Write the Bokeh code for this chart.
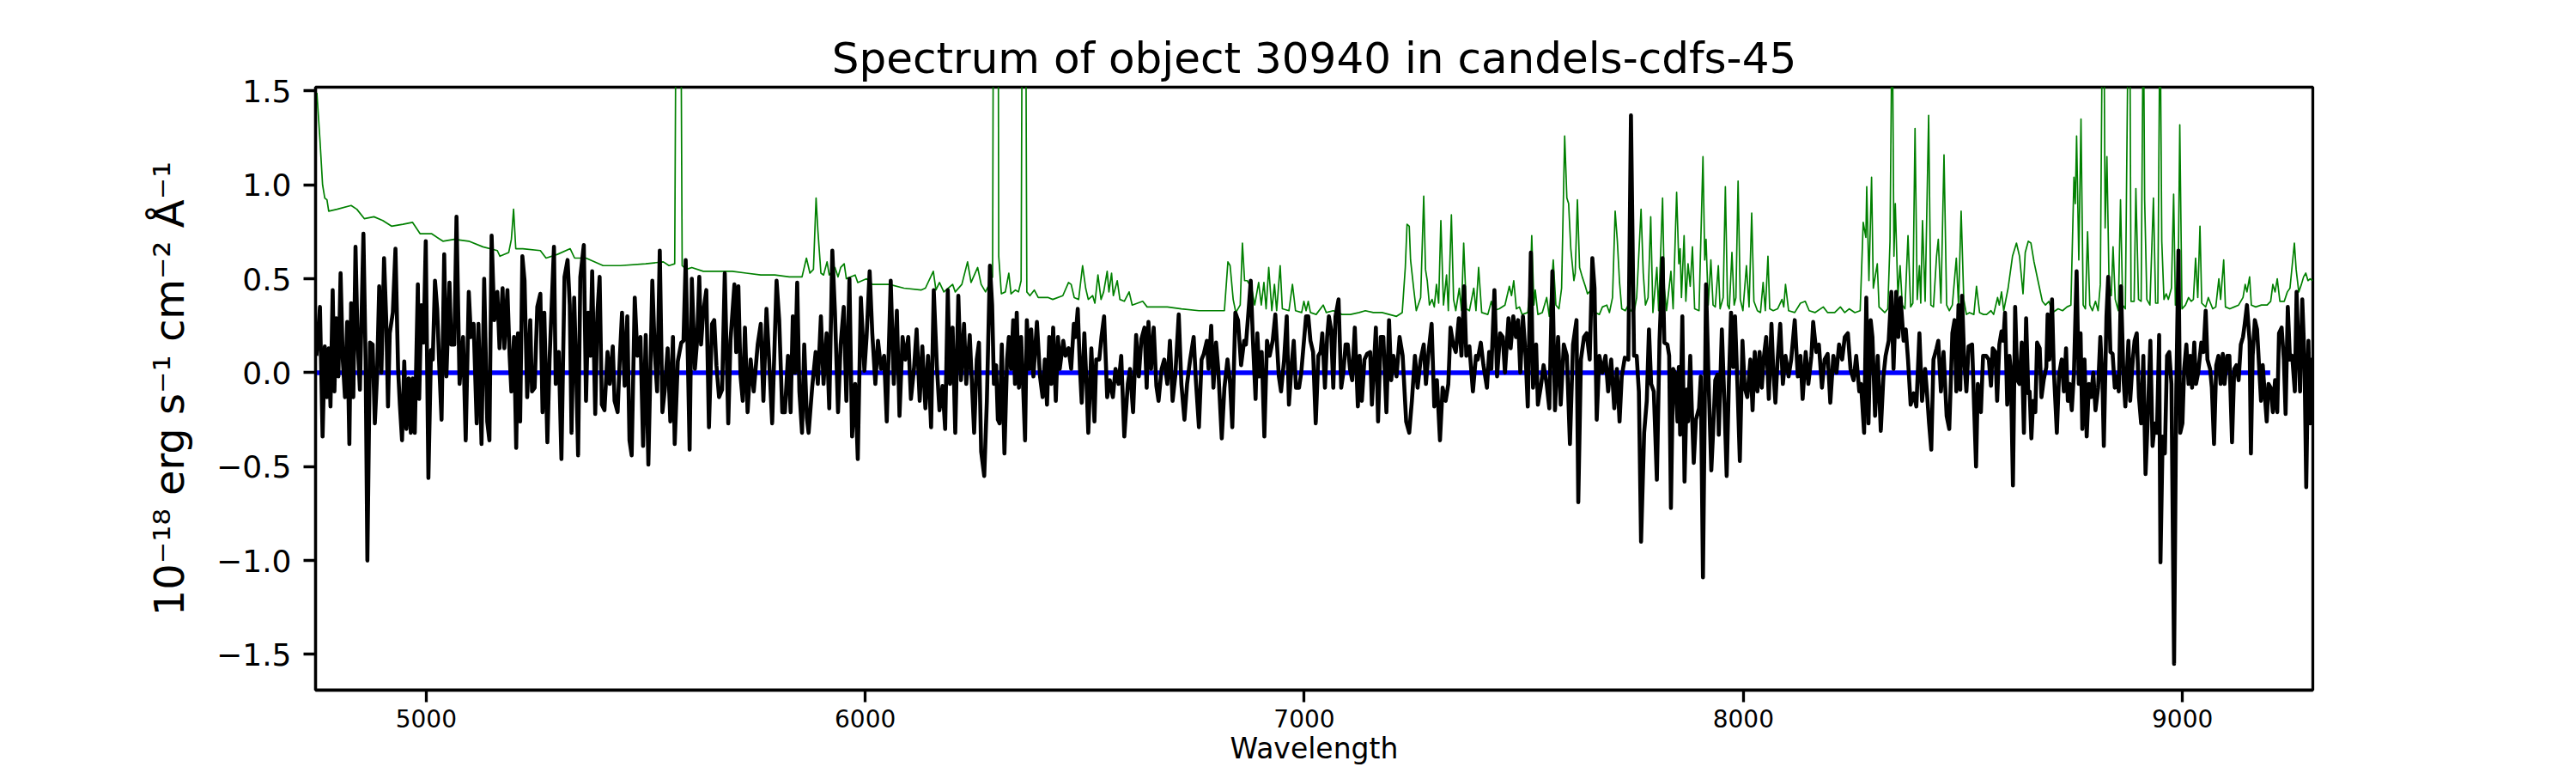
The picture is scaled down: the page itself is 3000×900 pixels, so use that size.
from bokeh.plotting import figure
from bokeh.models import FixedTicker, Range1d, ColumnDataSource
from bokeh.embed import file_html
from bokeh.resources import INLINE

TITLE = "Spectrum of object 30940 in candels-cdfs-45"
X_LABEL = "Wavelength"
Y_LABEL = "10\u207b\u00b9\u2078 erg s\u207b\u00b9 cm\u207b\u00b2 \u00c5\u207b\u00b9"
X_TICKS = [5000, 6000, 7000, 8000, 9000]
Y_TICKS = [-1.5, -1.0, -0.5, 0.0, 0.5, 1.0, 1.5]
Y_TICK_LABELS = ["\u22121.5", "\u22121.0", "\u22120.5", "0.0", "0.5", "1.0", "1.5"]

FLUX_A = [(4750,0.09),(4758,0.35),(4764,-0.34),(4769,0.14),(4774,-0.13),(4778,0.13),(4782,-0.18),(4787,0.44),(4791,-0.10),(4795,0.29),(4800,-0.02),(4805,0.53),(4810,0.07),(4815,-0.13),(4820,0.27),(4825,-0.38),(4829,0.37),(4834,-0.13),(4839,0.67),(4844,0.15),(4849,-0.09),(4857,0.74),(4862,0.07),(4866,-1.00),(4872,0.16),(4878,0.15),(4883,-0.27),(4888,-0.02),(4893,0.46),(4898,0.00),(4904,0.61),(4909,0.28),(4913,-0.18),(4917,0.21),(4924,0.32),(4930,0.66),(4936,0.02),(4940,-0.17),(4945,-0.36),(4950,0.06),(4955,-0.30),(4960,-0.03),(4965,-0.32),(4969,-0.03),(4974,-0.32),(4981,0.47),(4984,-0.14),(4989,0.36),(4994,0.16),(4999,0.70),(5005,-0.56),(5011,0.12),(5015,0.07),(5020,0.49),(5025,0.34),(5030,0.02),(5035,-0.25),(5041,0.63),(5046,-0.02),(5053,0.48),(5057,0.15),(5064,0.15),(5069,0.83),(5076,-0.06),(5084,0.19),(5090,-0.36),(5097,0.43),(5102,0.19),(5108,0.26),(5115,-0.27),(5119,0.26),(5126,-0.38),(5132,0.50),(5139,-0.26),(5144,-0.36),(5149,0.73),(5155,0.28),(5162,0.43),(5167,0.13),(5174,0.45),(5178,0.13),(5185,0.44),(5190,0.09),(5194,-0.10),(5200,0.19),(5205,-0.40),(5209,0.21),(5214,-0.26),(5219,0.62),(5224,0.49),(5230,-0.13),(5237,0.28),(5241,-0.10),(5247,-0.08),(5253,0.35),(5260,0.42),(5265,-0.21),(5269,0.32),(5276,-0.37),(5281,0.07),(5291,0.67),(5295,-0.06),(5302,0.11),(5308,-0.46),(5315,0.51),(5322,0.60),(5327,0.36),(5331,-0.32),(5337,0.40),(5341,0.07),(5346,-0.44),(5351,0.51),(5359,0.68),(5364,-0.15),(5369,0.32),(5374,0.09),(5378,0.54),(5385,-0.22),(5390,0.32),(5395,0.51),(5400,-0.17),(5406,-0.20),(5413,0.11),(5418,-0.06),(5425,0.14),(5429,-0.15),(5436,-0.21),(5441,0.08),(5446,0.32),(5452,-0.07),(5458,0.30),(5463,-0.36),(5468,-0.44),(5475,0.40),(5481,0.09),(5488,0.19),(5494,-0.39),(5500,0.20)]
FLUX_B = [(5506,-0.49),(5515,0.49),(5521,0.09),(5526,-0.10),(5532,0.65),(5538,-0.21),(5543,-0.10),(5550,0.13),(5556,-0.26),(5562,0.19),(5566,-0.38),(5573,0.06),(5581,0.16),(5586,0.17),(5591,0.60),(5596,0.07),(5600,-0.41),(5605,0.50),(5612,0.02),(5617,0.17),(5622,0.51),(5626,0.15),(5631,0.32),(5638,0.44),(5644,-0.29),(5651,0.26),(5656,0.28),(5661,0.04),(5667,-0.13),(5674,-0.09),(5680,0.53),(5688,-0.27),(5693,0.17),(5702,0.47),(5706,0.11),(5711,0.46),(5716,-0.02),(5721,-0.15),(5726,0.24),(5732,-0.21),(5739,0.07),(5746,-0.10),(5755,0.15),(5762,0.26),(5768,-0.15),(5775,0.34),(5781,0.07),(5788,-0.27),(5798,0.49),(5804,0.28),(5811,-0.21),(5817,-0.21),(5824,0.09),(5830,-0.21),(5835,0.30),(5840,0.00),(5845,0.48),(5850,-0.10),(5856,-0.32),(5861,0.15),(5867,-0.24),(5871,-0.32),(5879,-0.08),(5887,0.11),(5892,-0.06),(5899,0.30),(5905,-0.06),(5912,0.21),(5918,-0.19),(5925,0.65),(5931,0.32),(5938,-0.21),(5944,0.15),(5951,0.35),(5957,-0.15),(5964,0.50),(5970,-0.34),(5977,-0.06),(5983,-0.46),(5990,0.40),(5998,0.01),(6003,0.19),(6010,0.54),(6016,0.21),(6023,-0.06),(6029,0.17),(6036,0.02),(6043,0.09),(6049,-0.26),(6058,0.49),(6065,-0.06),(6072,0.33),(6078,-0.23),(6085,0.19),(6091,0.07),(6098,0.19),(6104,-0.14),(6111,0.02),(6117,0.23),(6124,-0.15),(6130,0.14),(6137,-0.19),(6143,0.09),(6150,-0.29),(6156,0.44),(6163,0.04),(6169,-0.20),(6176,-0.07),(6182,-0.30),(6188,0.44),(6193,-0.06),(6199,0.24),(6205,-0.32),(6212,0.41),(6218,-0.04),(6225,0.26),(6230,-0.06),(6238,0.20),(6248,-0.32),(6254,0.07),(6259,0.16),(6264,-0.42)]
FLUX_C = [(6271,-0.55),(6277,-0.15),(6284,0.57),(6289,0.36),(6293,-0.06),(6298,0.04),(6302,-0.25),(6306,-0.27),(6311,0.15),(6317,-0.43),(6323,0.07),(6327,0.19),(6332,0.02),(6337,0.28),(6341,-0.06),(6345,0.32),(6350,-0.08),(6355,0.19),(6360,-0.10),(6364,-0.36),(6368,0.28),(6374,0.02),(6378,0.23),(6383,-0.02),(6391,0.27),(6398,-0.02),(6404,-0.13),(6409,0.07),(6414,-0.17),(6419,0.19),(6424,-0.06),(6428,0.24),(6434,-0.15),(6439,0.19),(6443,0.02),(6451,0.17),(6456,0.09),(6463,0.13),(6469,0.02),(6475,0.26),(6479,0.19),(6484,0.34),(6489,0.02),(6493,-0.16),(6499,0.21),(6504,-0.06),(6508,-0.32),(6515,0.13),(6522,-0.26),(6526,0.07),(6533,0.07),(6538,0.19),(6544,0.30),(6551,-0.13),(6557,-0.04),(6564,-0.13),(6570,0.02),(6577,-0.06),(6583,0.09),(6590,-0.34),(6598,-0.06),(6603,0.02),(6610,-0.21),(6617,0.20),(6623,-0.02),(6629,0.18),(6636,0.24),(6641,-0.08),(6645,0.27),(6651,0.02),(6657,0.24),(6663,-0.07),(6668,-0.15),(6675,0.02),(6681,0.07),(6688,-0.06),(6694,0.17),(6700,-0.15),(6706,-0.02),(6714,0.31),(6720,-0.06),(6727,-0.25),(6733,-0.06),(6740,0.07),(6748,0.19),(6753,-0.04),(6760,-0.29),(6766,0.07),(6771,0.10),(6778,0.17),(6782,0.02),(6788,0.25),(6793,-0.08),(6799,0.16),(6804,0.02),(6812,-0.35),(6818,-0.08),(6825,0.07),(6831,-0.06),(6836,-0.29),(6843,0.32),(6849,0.28),(6856,0.04),(6863,0.17),(6867,0.15),(6874,0.36),(6878,0.49),(6883,0.17),(6889,-0.14),(6893,0.21),(6898,-0.02),(6903,0.11),(6909,-0.34),(6915,0.17),(6921,0.09),(6928,0.17),(6934,0.31),(6942,-0.02),(6947,-0.10),(6954,0.07),(6960,0.30),(6965,-0.17),(6971,0.04),(6976,0.17),(6981,-0.08),(6988,-0.08),(6993,0.00),(6997,0.11),(7004,0.30),(7009,0.30),(7014,0.17),(7020,0.11),(7026,-0.27)]
FLUX_D = [(7032,0.09),(7037,0.11),(7041,0.21),(7047,-0.08),(7052,0.19),(7056,0.30),(7061,0.23),(7066,-0.08),(7071,0.30),(7078,0.39),(7084,-0.08),(7089,0.00),(7094,0.15),(7099,0.15),(7104,0.02),(7109,-0.04),(7115,0.24),(7122,-0.18),(7126,0.09),(7131,-0.15),(7137,0.07),(7143,0.10),(7150,0.11),(7154,-0.17),(7163,0.24),(7168,-0.26),(7174,0.19),(7180,0.19),(7187,-0.21),(7193,0.28),(7198,-0.04),(7203,0.09),(7210,-0.02),(7217,0.19),(7224,0.09),(7232,-0.26),(7239,-0.32),(7245,-0.15),(7252,0.09),(7258,-0.08),(7265,0.07),(7272,0.15),(7277,-0.06),(7283,0.11),(7290,0.26),(7296,-0.18),(7302,-0.04),(7309,-0.36),(7315,-0.08),(7322,-0.15),(7328,-0.06),(7333,0.24),(7339,0.15),(7345,0.11),(7352,0.29),(7358,0.09),(7364,0.46),(7369,0.09),(7376,0.14),(7384,-0.10),(7391,0.09),(7395,0.07),(7402,0.16),(7408,0.04),(7416,-0.08),(7421,0.11),(7426,0.02),(7433,0.44),(7439,-0.02),(7446,0.21),(7452,0.19),(7457,0.00),(7465,0.29),(7470,0.13),(7476,0.30),(7482,0.19),(7487,0.28),(7492,0.00),(7498,0.30),(7504,0.09),(7509,-0.18),(7516,0.64),(7521,-0.08),(7528,0.15),(7532,-0.17),(7539,-0.07),(7545,0.04),(7552,-0.06),(7558,-0.19),(7565,0.54),(7571,-0.20),(7578,0.19),(7584,-0.17),(7591,0.15),(7598,0.09),(7605,-0.38),(7612,0.15),(7620,0.28),(7624,-0.69),(7630,0.07),(7637,0.19),(7643,0.21),(7650,0.07),(7656,0.61),(7661,0.45),(7666,-0.25),(7672,0.09),(7679,0.00),(7686,0.09),(7692,-0.10),(7699,0.07),(7706,-0.19),(7712,0.02),(7718,-0.26),(7723,-0.02),(7730,0.08),(7738,0.07),(7744,1.37),(7751,0.09),(7757,0.09),(7762,-0.10),(7767,-0.90),(7774,-0.32),(7780,-0.15),(7785,0.23),(7790,-0.06)]
FLUX_E = [(7796,-0.10),(7803,-0.57),(7809,0.17),(7816,0.61),(7820,0.16),(7827,0.15),(7831,0.09),(7835,-0.72),(7840,0.02),(7844,0.00),(7850,-0.26),(7853,0.03),(7856,-0.33),(7861,0.30),(7866,-0.58),(7871,-0.09),(7874,-0.26),(7879,0.09),(7882,-0.15),(7887,-0.48),(7892,-0.25),(7899,-0.19),(7903,-0.02),(7908,-1.09),(7915,0.47),(7921,-0.06),(7927,-0.52),(7931,-0.32),(7936,-0.04),(7941,-0.01),(7944,-0.33),(7951,0.23),(7957,-0.17),(7962,-0.55),(7967,-0.05),(7972,0.32),(7977,0.03),(7981,0.30),(7987,-0.10),(7992,-0.47),(7998,0.17),(8003,-0.08),(8009,-0.13),(8016,0.07),(8021,-0.20),(8026,0.11),(8032,-0.10),(8037,0.11),(8042,-0.08),(8047,0.09),(8052,0.19),(8058,-0.14),(8064,0.26),(8068,0.02),(8073,-0.16),(8078,0.07),(8084,0.26),(8090,-0.06),(8096,0.09),(8103,-0.02),(8109,0.07),(8117,0.28),(8124,-0.02),(8130,0.09),(8135,-0.14),(8142,0.11),(8148,-0.06),(8155,0.09),(8159,0.27),(8166,0.11),(8172,0.15),(8179,-0.08),(8185,0.07),(8192,0.10),(8198,-0.16),(8205,0.09),(8212,0.00),(8218,0.15),(8225,0.07),(8231,0.19),(8238,0.21),(8244,0.02),(8251,-0.04),(8257,0.09),(8264,-0.10),(8268,-0.06),(8275,-0.32),(8280,0.40),(8285,-0.27),(8290,0.28),(8294,0.19),(8300,-0.23),(8306,0.09),(8313,-0.31),(8319,-0.02),(8324,0.09),(8331,0.17),(8337,0.43),(8342,0.02),(8348,0.43),(8353,0.19),(8358,0.40),(8365,0.17),(8370,0.23),(8375,0.07),(8381,-0.17),(8388,-0.11),(8394,-0.18),(8401,0.21),(8407,-0.15),(8414,0.02),(8418,-0.10),(8423,-0.27),(8428,-0.41),(8433,0.07),(8440,0.13),(8444,0.17),(8450,-0.10),(8456,0.11),(8463,-0.23),(8469,-0.30),(8476,0.21),(8481,0.28),(8485,-0.10),(8490,0.36),(8494,-0.09),(8498,0.41),(8503,0.07),(8508,-0.10),(8513,0.14),(8521,0.15),(8530,-0.50),(8534,-0.06),(8541,-0.21),(8546,0.09),(8553,0.09)]
FLUX_F = [(8559,0.07),(8564,-0.07),(8568,0.13),(8574,0.11),(8578,-0.15),(8583,0.15),(8588,0.22),(8592,0.17),(8596,0.32),(8601,-0.17),(8606,0.09),(8609,0.02),(8614,-0.60),(8619,0.35),(8624,-0.04),(8629,-0.06),(8634,0.16),(8639,-0.32),(8644,0.29),(8649,-0.11),(8652,-0.10),(8656,-0.35),(8660,-0.15),(8665,-0.21),(8669,0.16),(8675,0.13),(8679,-0.13),(8684,-0.04),(8690,0.03),(8693,0.31),(8697,0.07),(8703,0.39),(8707,0.02),(8714,-0.32),(8719,-0.01),(8725,0.07),(8730,-0.10),(8735,0.13),(8739,-0.15),(8743,-0.06),(8748,-0.20),(8753,0.00),(8759,0.54),(8764,-0.06),(8768,0.21),(8772,-0.30),(8777,0.07),(8782,-0.34),(8787,-0.06),(8792,-0.13),(8797,0.00),(8802,-0.20),(8808,-0.08),(8813,0.19),(8818,-0.06),(8821,-0.39),(8827,0.30),(8831,0.51),(8836,0.11),(8841,0.10),(8846,-0.08),(8851,-0.02),(8855,-0.10),(8860,0.46),(8866,-0.04),(8870,-0.18),(8877,0.17),(8881,-0.15),(8887,0.07),(8891,0.17),(8896,0.21),(8901,-0.13),(8906,-0.27),(8911,0.09),(8916,-0.54),(8921,-0.25),(8927,0.17),(8932,-0.39),(8937,-0.27),(8942,-0.32),(8947,0.20),(8950,-1.01),(8955,-0.34),(8960,-0.43),(8965,0.09),(8970,0.11),(8975,-0.06),(8981,-1.55),(8986,-0.10),(8991,0.65),(8995,-0.32),(9000,-0.27),(9004,0.02),(9009,0.15),(9014,-0.06),(9018,0.09),(9022,-0.08),(9027,0.16),(9031,-0.06),(9036,0.00),(9043,0.16),(9048,0.11),(9053,0.33),(9057,0.07),(9063,0.02),(9067,-0.08),(9072,-0.38),(9077,0.04),(9082,0.09),(9087,-0.06),(9092,0.10),(9096,-0.06),(9102,0.09),(9107,0.09),(9113,-0.37),(9118,0.02),(9123,0.04),(9128,-0.04),(9133,0.15),(9138,0.19),(9142,0.26),(9147,0.36),(9153,0.17),(9156,-0.43),(9160,0.09),(9165,0.28),(9170,0.23),(9175,0.02),(9179,-0.15),(9183,0.04),(9188,-0.13),(9192,-0.26),(9196,-0.06),(9201,-0.08),(9206,-0.21),(9211,-0.04),(9216,-0.21),(9220,0.21),(9226,0.24),(9231,0.07),(9235,-0.22),(9240,0.35),(9245,0.07),(9250,0.09),(9256,-0.10),(9260,0.43),(9265,0.07),(9268,-0.10),(9273,0.39),(9278,0.07),(9282,-0.61),(9287,0.17),(9291,-0.27),(9295,0.07),(9297,-0.27)]

# Error / sky spectrum (green)
SKY_A = [(4751,1.49),(4758,1.24),(4764,1.00),(4769,0.93),(4774,0.92),(4778,0.86),(4797,0.87),(4829,0.89),(4842,0.87),(4859,0.82),(4881,0.83),(4901,0.81),(4921,0.78),(4947,0.79),(4969,0.80),(4986,0.74),(5012,0.74),(5038,0.70),(5064,0.71),(5097,0.70),(5129,0.67),(5162,0.65),(5168,0.62),(5188,0.64),(5194,0.71),(5199,0.87),(5204,0.66),(5220,0.66),(5260,0.65),(5273,0.61),(5299,0.63),(5328,0.66),(5338,0.61),(5364,0.61),(5403,0.57),(5442,0.57),(5500,0.58)]
SKY_B = [(5540,0.59),(5553,0.57),(5566,0.58),(5571,3.0),(5578,3.0),(5583,0.57),(5592,0.55),(5605,0.56),(5631,0.54),(5664,0.54),(5697,0.54),(5729,0.53),(5762,0.52),(5794,0.52),(5827,0.51),(5856,0.51),(5866,0.61),(5874,0.53),(5882,0.55),(5888,0.93),(5892,0.76),(5899,0.53),(5905,0.52),(5913,0.59),(5918,0.52),(5931,0.56),(5938,0.51),(5944,0.56),(5952,0.58),(5957,0.50),(5977,0.52),(5983,0.48),(6003,0.50),(6016,0.47),(6055,0.47),(6088,0.45),(6127,0.44),(6137,0.45),(6155,0.54),(6161,0.44),(6169,0.48),(6179,0.43),(6199,0.47),(6205,0.43),(6220,0.47),(6233,0.59),(6241,0.48),(6256,0.56),(6264,0.47)]
SKY_C = [(6274,0.43),(6290,0.51),(6293,3.0),(6302,3.0),(6304,0.62),(6310,0.42),(6319,0.43),(6327,0.53),(6332,0.42),(6342,0.44),(6349,0.43),(6355,0.49),(6359,3.0),(6364,3.0),(6368,0.43),(6375,0.41),(6385,0.44),(6394,0.40),(6417,0.40),(6427,0.39),(6450,0.41),(6463,0.48),(6469,0.47),(6476,0.40),(6486,0.39),(6495,0.57),(6502,0.45),(6508,0.39),(6518,0.41),(6523,0.37),(6530,0.52),(6537,0.39),(6543,0.43),(6551,0.54),(6555,0.43),(6561,0.53),(6565,0.41),(6574,0.49),(6580,0.39),(6590,0.38),(6601,0.43),(6608,0.36),(6632,0.38),(6642,0.35),(6688,0.35),(6720,0.34),(6760,0.33),(6818,0.33),(6826,0.59),(6831,0.57),(6838,0.39),(6844,0.32),(6854,0.36),(6859,0.69),(6864,0.49),(6870,0.49),(6880,0.45),(6887,0.36),(6896,0.48),(6902,0.36),(6908,0.48),(6913,0.34),(6919,0.56),(6926,0.33),(6932,0.47),(6937,0.33),(6945,0.57),(6950,0.34),(6965,0.33),(6973,0.47),(6980,0.33),(6994,0.32),(6999,0.38),(7004,0.33),(7009,0.38),(7014,0.32),(7027,0.31)]
SKY_D = [(7043,0.36),(7050,0.32),(7066,0.33),(7086,0.31),(7105,0.31),(7125,0.32),(7139,0.33),(7157,0.32),(7177,0.32),(7210,0.30),(7223,0.32),(7230,0.56),(7234,0.79),(7239,0.78),(7242,0.60),(7249,0.45),(7255,0.33),(7265,0.40),(7272,0.94),(7276,0.55),(7280,0.49),(7285,0.36),(7291,0.39),(7296,0.35),(7301,0.47),(7306,0.37),(7311,0.81),(7317,0.36),(7324,0.52),(7328,0.33),(7335,0.84),(7340,0.39),(7345,0.33),(7353,0.45),(7358,0.33),(7363,0.69),(7369,0.34),(7376,0.33),(7386,0.45),(7391,0.33),(7397,0.56),(7404,0.32),(7418,0.31),(7426,0.38),(7431,0.33),(7444,0.34),(7457,0.36),(7467,0.46),(7472,0.41),(7477,0.49),(7483,0.34),(7490,0.35),(7496,0.31),(7509,0.32),(7515,0.49),(7518,0.73),(7523,0.36),(7526,0.44),(7532,0.31),(7542,0.32),(7552,0.40),(7558,0.30),(7567,0.60),(7573,0.36),(7580,0.34),(7586,0.45),(7593,1.26),(7598,0.93),(7602,0.90),(7607,0.66),(7614,0.49),(7617,0.53),(7622,0.92),(7627,0.56),(7633,0.51),(7640,0.46),(7645,0.42),(7653,0.44),(7663,0.32),(7672,0.31),(7679,0.35),(7689,0.36),(7695,0.32),(7702,0.40),(7708,0.86),(7713,0.70),(7718,0.48),(7723,0.34),(7731,0.33),(7738,0.36),(7744,0.33),(7751,0.32),(7757,0.40),(7767,0.87),(7772,0.53),(7777,0.36),(7783,0.40),(7789,0.83)]
SKY_E = [(7794,0.32),(7803,0.56),(7807,0.33),(7816,0.93),(7820,0.45),(7825,0.33),(7835,0.54),(7840,0.34),(7848,0.96),(7853,0.58),(7856,0.66),(7859,0.40),(7865,0.73),(7869,0.38),(7874,0.58),(7879,0.46),(7884,0.67),(7889,0.34),(7899,0.33),(7908,1.15),(7912,0.60),(7915,0.71),(7920,0.36),(7926,0.60),(7931,0.36),(7936,0.35),(7943,0.57),(7947,0.34),(7954,0.40),(7959,0.99),(7964,0.36),(7968,0.34),(7974,0.64),(7979,0.36),(7983,0.40),(7988,1.02),(7993,0.39),(7999,0.33),(8007,0.57),(8013,0.35),(8019,0.85),(8024,0.38),(8032,0.33),(8039,0.32),(8045,0.48),(8050,0.33),(8056,0.62),(8060,0.34),(8068,0.33),(8078,0.34),(8088,0.39),(8092,0.35),(8096,0.47),(8103,0.33),(8117,0.32),(8130,0.37),(8141,0.38),(8150,0.33),(8163,0.32),(8182,0.35),(8192,0.32),(8208,0.32),(8221,0.35),(8231,0.32),(8241,0.34),(8254,0.32),(8266,0.33),(8273,0.80),(8279,0.72),(8281,0.99),(8286,0.49),(8292,1.04),(8296,0.45),(8305,0.58),(8309,0.35),(8322,0.32),(8329,0.34),(8334,0.70),(8339,2.0),(8343,0.62),(8346,0.90),(8352,0.41),(8357,0.57),(8362,0.36),(8368,0.34),(8375,0.73),(8381,0.35),(8386,0.37),(8391,1.30),(8396,0.39),(8401,0.57),(8404,0.37),(8408,0.81),(8414,0.38),(8422,1.37),(8427,0.36),(8433,0.35),(8440,0.62),(8444,0.71),(8450,0.37),(8457,1.16),(8463,0.36),(8469,0.33),(8476,0.36),(8485,0.61),(8490,0.36),(8496,0.86),(8502,0.39),(8508,0.31),(8515,0.32),(8525,0.31),(8531,0.46),(8538,0.32),(8547,0.31),(8554,0.31)]
SKY_F = [(8564,0.33),(8570,0.31),(8579,0.40),(8583,0.36),(8588,0.43),(8593,0.33),(8603,0.45),(8613,0.62),(8622,0.69),(8629,0.62),(8637,0.42),(8642,0.64),(8649,0.70),(8655,0.69),(8662,0.59),(8671,0.49),(8681,0.38),(8688,0.36),(8696,0.38),(8704,0.32),(8717,0.34),(8727,0.33),(8737,0.35),(8746,0.36),(8753,1.04),(8756,0.90),(8759,1.26),(8764,0.60),(8769,1.35),(8774,0.36),(8779,0.34),(8784,0.75),(8789,0.36),(8795,0.33),(8802,0.38),(8808,0.33),(8813,0.47),(8818,2.0),(8821,2.0),(8824,0.77),(8828,1.15),(8833,0.47),(8838,0.41),(8842,0.67),(8847,0.39),(8854,0.33),(8859,0.92),(8864,0.36),(8870,0.34),(8877,2.0),(8880,2.0),(8883,0.38),(8890,0.38),(8894,0.98),(8900,0.39),(8906,0.38),(8911,2.0),(8914,0.92),(8919,0.39),(8926,0.36),(8934,0.93),(8939,0.37),(8944,0.37),(8949,2.0),(8953,0.70),(8958,0.39),(8963,0.42),(8968,0.39),(8975,0.45),(8980,0.95),(8984,0.36),(8990,0.43),(8994,1.32),(8999,0.34),(9007,0.36),(9014,0.40),(9020,0.38),(9025,0.39),(9030,0.61),(9035,0.40),(9040,0.78),(9044,0.37),(9053,0.35),(9059,0.40),(9069,0.34),(9076,0.35),(9083,0.50),(9087,0.39),(9094,0.60),(9098,0.35),(9108,0.34),(9118,0.35),(9128,0.36),(9138,0.40),(9143,0.47),(9147,0.43),(9153,0.51),(9157,0.36),(9167,0.35),(9180,0.36),(9193,0.36),(9201,0.38),(9206,0.47),(9211,0.43),(9216,0.50),(9222,0.38),(9232,0.38),(9239,0.43),(9245,0.45),(9255,0.69),(9259,0.55),(9265,0.43),(9271,0.47),(9276,0.51),(9281,0.53),(9286,0.49),(9291,0.50),(9296,0.49)]

# Model (blue)
MODEL_WAVE = [4748, 9200]
MODEL_FLUX = [0.0, 0.0]

flux_pts = FLUX_A + FLUX_B + FLUX_C + FLUX_D + FLUX_E + FLUX_F
sky_pts = SKY_A + SKY_B + SKY_C + SKY_D + SKY_E + SKY_F

flux_src = ColumnDataSource(dict(x=[a for a, b in flux_pts], y=[b for a, b in flux_pts]))
sky_src = ColumnDataSource(dict(x=[a for a, b in sky_pts], y=[b for a, b in sky_pts]))
model_src = ColumnDataSource(dict(x=MODEL_WAVE, y=MODEL_FLUX))

FONT = "DejaVu Sans"

p = figure(frame_width=2326, frame_height=702,
           x_range=Range1d(4748, 9297), y_range=Range1d(-1.69, 1.52),
           output_backend="svg", toolbar_location=None,
           min_border_left=367, min_border_top=101, min_border_right=10, min_border_bottom=4,
           title=TITLE)

p.title.text_font = FONT
p.title.text_font_size = "50px"
p.title.text_font_style = "normal"
p.title.text_color = "black"
p.title.align = "center"

p.line("x", "y", source=sky_src, line_color="green", line_width=1.7, line_join="round")
p.line("x", "y", source=model_src, line_color="blue", line_width=5.5)
p.line("x", "y", source=flux_src, line_color="black", line_width=4.6, line_join="round")

p.xgrid.visible = False
p.ygrid.visible = False
p.outline_line_color = "black"
p.outline_line_width = 3.3
p.outline_line_alpha = 1.0
p.background_fill_color = "white"
p.border_fill_color = "white"

for ax in (p.xaxis[0], p.yaxis[0]):
    ax.axis_line_width = 3.3
    ax.axis_line_color = "black"
    ax.major_tick_line_width = 3.3
    ax.major_tick_line_color = "black"
    ax.major_tick_out = 14
    ax.major_tick_in = 0
    ax.minor_tick_out = 0
    ax.minor_tick_in = 0
    ax.major_label_text_color = "black"
    ax.major_label_text_font = FONT
    ax.axis_label_text_font = FONT
    ax.axis_label_text_font_style = "normal"
    ax.axis_label_text_color = "black"

p.xaxis.ticker = FixedTicker(ticks=X_TICKS, minor_ticks=[])
p.xaxis.major_label_text_font_size = "28px"
p.xaxis.major_label_standoff = 8
p.xaxis.axis_label = X_LABEL
p.xaxis.axis_label_text_font_size = "33px"
p.xaxis.axis_label_standoff = 2

p.yaxis.ticker = FixedTicker(ticks=Y_TICKS, minor_ticks=[])
p.yaxis.major_label_overrides = {t: s for t, s in zip(Y_TICKS, Y_TICK_LABELS)}
p.yaxis.major_label_text_font_size = "36px"
p.yaxis.major_label_standoff = 14
p.yaxis.axis_label = Y_LABEL
p.yaxis.axis_label_text_font_size = "48px"
p.yaxis.axis_label_standoff = 24

open("out.html", "w").write(file_html(p, INLINE))
